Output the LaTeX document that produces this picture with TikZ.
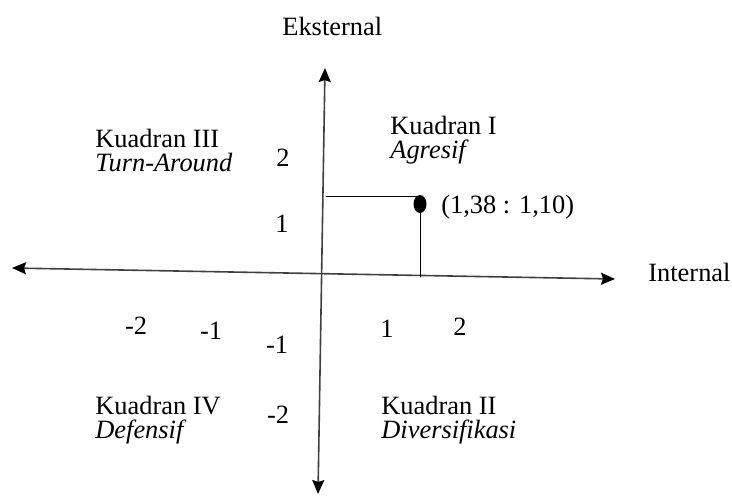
\documentclass[tikz,border=0pt]{standalone}
\usepackage{fontspec}
\setmainfont{Liberation Serif}
\usetikzlibrary{arrows.meta, shapes.geometric}

\begin{document}
\begin{tikzpicture}[
  x=0.5pt, y=-0.5pt,
  line cap=round, line join=round,
  every node/.style={font=\fontsize{13.2}{12}\selectfont, inner sep=0pt},
  axis/.style={line width=0.8pt, draw=black!75,
    {Stealth[length=7pt, width=6pt, inset=1pt, black]}-{Stealth[length=7pt, width=6pt, inset=1pt, black]}},
  quad/.style={align=left, anchor=west},
  guide/.style={line width=0.5pt},
  dot/.style={ellipse, fill, minimum width=6.5pt, minimum height=9pt}
]
  \useasboundingbox (0,0) rectangle (732,498);

  % axes
  \coordinate (xl) at (12,268);
  \coordinate (xr) at (615,279);
  \coordinate (yt) at (325,68);
  \coordinate (yb) at (318,494);
  \draw[axis] (xl) -- (xr);
  \draw[axis] (yt) -- (yb);

  \node[anchor=base west] (ext) at (282,35) {Eksternal};
  \node[anchor=west] (int) at (648,272) {Internal};

  % quadrant names
  \node[quad] (q3) at (95,150) {Kuadran III\\\textit{Turn-Around}};
  \node[quad] (q1) at (390,140) {Kuadran I\\\textit{Agresif}};
  \node[quad] (q4) at (95,420) {Kuadran IV\\\textit{Defensif}};
  \node[quad] (q2) at (381,420) {Kuadran II\\\textit{Diversifikasi}};

  % scale numbers
  \node (ny2)  at (283,158) {2};
  \node (ny1)  at (282,224) {1};
  \node (nx-2) at (136,326) {-2};
  \node (nx-1) at (211,331) {-1};
  \node (nx1)  at (387,329) {1};
  \node (nx2)  at (460,327) {2};
  \node (ny-1) at (277,345) {-1};
  \node (ny-2) at (278,415) {-2};

  % the point
  \coordinate (h0) at (326,196);
  \coordinate (v0) at (421,277);
  \node[dot] (pt) at (420,204) {};
  \draw[guide] (h0) -- (h0 -| pt);
  \draw[guide] (pt) -- (pt |- v0);
  \node[anchor=west] (ptlbl) at (441,207) {(1,38 : 1,10)};
\end{tikzpicture}
\end{document}
